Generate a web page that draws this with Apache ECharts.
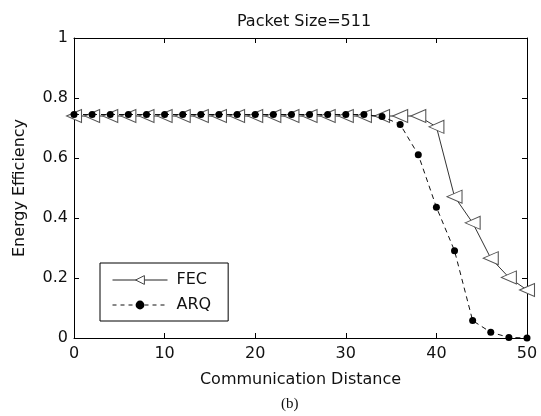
<!DOCTYPE html>
<html><head><meta charset="utf-8">
<script src="https://cdn.jsdelivr.net/npm/echarts@6/dist/echarts.min.js"></script>
<style>html,body{margin:0;padding:0;background:#fff}#c{width:541px;height:416px}</style>
</head><body><div id="c"></div>
<script>
const distance = [0,2,4,6,8,10,12,14,16,18,20,22,24,26,28,30,32,34,36,38,40,42,44,46,48,50];
const fec = [0.74,0.74,0.74,0.74,0.74,0.74,0.74,0.74,0.74,0.74,0.74,0.74,0.74,0.74,0.74,0.74,0.74,0.74,0.74,0.74,0.704,0.471,0.384,0.266,0.202,0.16];
const arq = [0.745,0.745,0.745,0.745,0.745,0.745,0.745,0.745,0.745,0.745,0.745,0.745,0.745,0.745,0.745,0.745,0.745,0.738,0.712,0.611,0.436,0.291,0.058,0.019,0.002,0.0];
const xTicks = [0,10,20,30,40,50];
const yTicks = [0,0.2,0.4,0.6,0.8,1];
const font = 'DejaVu Sans, Liberation Sans, sans-serif';
const chart = echarts.init(document.getElementById('c'));
const axisCommon = {
  axisLine:{show:true,onZero:false,lineStyle:{color:'#000',width:1}},
  axisTick:{show:true,inside:true,length:5,lineStyle:{color:'#000'}},
  splitLine:{show:false}
};
chart.setOption({
  animation:false,
  backgroundColor:'#fff',
  title:{text:'Packet Size=511',left:299,top:9,textAlign:'center',textStyle:{fontFamily:font,fontSize:16,fontWeight:'normal',color:'#111'}},
  grid:{left:74,right:14,top:38,bottom:78},
  legend:{orient:'vertical',left:100,top:263,padding:[9,17,8,12],itemGap:9,itemWidth:55,itemHeight:11,
    borderColor:'#000',borderWidth:1,borderRadius:0,backgroundColor:'#fff',
    textStyle:{fontFamily:font,fontSize:16,color:'#111',padding:[0,0,0,4]},
    data:[
      {name:'FEC',itemStyle:{color:'#fff',borderColor:'#444',borderWidth:1},lineStyle:{color:'#222',width:1}},
      {name:'ARQ',itemStyle:{color:'#000'},lineStyle:{color:'#111',width:1,type:[4,4]}}
    ]},
  xAxis:[
    Object.assign({type:'value',min:0,max:50,interval:10,position:'bottom',
      name:'Communication Distance',nameLocation:'middle',nameGap:34,
      nameTextStyle:{fontFamily:font,fontSize:16,color:'#111'},
      axisLabel:{fontFamily:font,fontSize:16,color:'#111',margin:8,customValues:xTicks}},axisCommon),
    Object.assign({type:'value',min:0,max:50,interval:10,position:'top',axisLabel:{show:false}},axisCommon)
  ],
  yAxis:[
    Object.assign({type:'value',min:0,max:1,interval:0.2,position:'left',
      name:'Energy Efficiency',nameLocation:'middle',nameGap:46,
      nameTextStyle:{fontFamily:font,fontSize:16,color:'#111'},
      axisLabel:{fontFamily:font,fontSize:16,color:'#111',margin:6,customValues:yTicks,formatter:v=>String(+v.toFixed(1))}},axisCommon),
    Object.assign({type:'value',min:0,max:1,interval:0.2,position:'right',axisLabel:{show:false}},axisCommon)
  ],
  graphic:[{type:'text',left:281,top:397,style:{text:'(b)',font:'15px Liberation Serif, serif',fill:'#111'}}],
  series:[
    {name:'FEC',type:'line',data:distance.map((d,i)=>[d,fec[i]]),symbol:'triangle',symbolSize:[13,15],symbolRotate:90,
      lineStyle:{color:'#333',width:1},itemStyle:{color:'#fff',borderColor:'#555',borderWidth:1},z:2},
    {name:'ARQ',type:'line',data:distance.map((d,i)=>[d,arq[i]]),symbol:'circle',symbolSize:7,
      lineStyle:{color:'#111',width:1,type:[5,4]},itemStyle:{color:'#000',borderColor:'#000',borderWidth:0},z:3}
  ]
});
</script></body></html>
